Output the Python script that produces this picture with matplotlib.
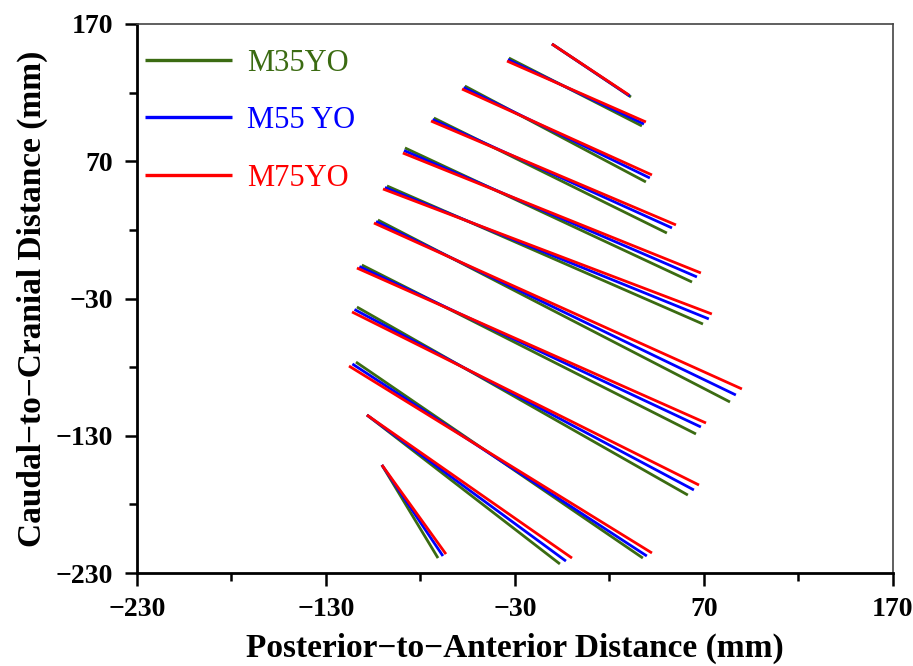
import matplotlib.pyplot as plt

# start / end points of each trajectory line (mm), one entry per line
m35_x0 = [-10.4, -33.2, -56.5, -72.9, -88.2, -97.7, -102.5, -111.0, -113.6, -114.1, -108.3, -100.4]
m35_y0 = [155.4, 145.2, 124.8, 101.5, 79.7, 52.0, 27.2, -5.6, -36.2, -76.3, -114.9, -151.3]
m35_x1 = [31.4, 37.2, 39.3, 50.4, 63.7, 69.5, 83.8, 65.8, 61.5, 37.7, -6.2, -70.7]
m35_y1 = [116.8, 95.7, 54.9, 17.7, -18.0, -48.6, -105.4, -128.7, -173.2, -219.1, -223.4, -219.1]

m55_x0 = [-10.4, -33.7, -57.2, -73.6, -88.7, -98.8, -103.5, -112.3, -114.9, -116.0, -108.3, -100.4]
m55_y0 = [155.4, 144.1, 123.7, 100.4, 77.8, 50.9, 26.1, -6.7, -38.0, -77.7, -114.9, -151.3]
m55_x1 = [30.8, 38.3, 41.4, 53.1, 66.3, 72.6, 86.9, 68.4, 64.7, 39.8, -3.0, -68.1]
m55_y1 = [117.5, 97.1, 57.8, 21.4, -14.3, -44.9, -100.3, -123.6, -169.5, -217.6, -221.3, -217.6]

m75_x0 = [-10.4, -34.2, -58.0, -74.4, -89.3, -99.8, -104.6, -113.6, -116.2, -117.8, -108.3, -100.4]
m75_y0 = [155.4, 143.0, 122.6, 99.3, 76.0, 49.8, 25.0, -7.8, -39.8, -79.2, -114.9, -151.3]
m75_x1 = [30.3, 39.3, 42.5, 55.2, 68.4, 74.2, 90.1, 71.1, 67.4, 42.5, 0.2, -66.5]
m75_y1 = [118.3, 98.6, 60.0, 23.6, -11.4, -41.3, -95.9, -120.7, -165.9, -215.4, -219.1, -216.2]

major_ticks = [-230, -130, -30, 70, 170]
minor_ticks = [-180, -80, 20, 120]

series = [
    ("M35YO", "#3b6b12", m35_x0, m35_y0, m35_x1, m35_y1),
    ("M55 YO", "#0000ff", m55_x0, m55_y0, m55_x1, m55_y1),
    ("M75YO", "#ff0000", m75_x0, m75_y0, m75_x1, m75_y1),
]

plt.rcParams['font.family'] = ['Liberation Serif', 'DejaVu Serif']

fig = plt.figure(figsize=(9.13, 6.66), dpi=100)
ax = fig.add_axes([0.150, 0.1396, 0.828, 0.8244])

for name, color, x0, y0, x1, y1 in series:
    for i in range(len(x0)):
        ax.plot([x0[i], x1[i]], [y0[i], y1[i]], color=color, lw=2.0,
                label=name if i == 0 else None, solid_capstyle='butt')

ax.set_xlim(-230, 170)
ax.set_ylim(-230, 170)
ax.set_xticks(major_ticks)
ax.set_yticks(major_ticks)
ax.set_xticks(minor_ticks, minor=True)
ax.set_yticks(minor_ticks, minor=True)
ax.set_xticklabels([str(t).replace('-', '\u2212') for t in major_ticks])
ax.set_yticklabels([str(t).replace('-', '\u2212') for t in major_ticks])

ax.tick_params(which='both', direction='out', width=1.8, top=False, right=False)
ax.tick_params(which='major', length=9, labelsize=20, pad=8)
ax.tick_params(which='minor', length=6)
for lab in ax.get_xticklabels() + ax.get_yticklabels():
    lab.set_fontweight('bold')

for s in ['left', 'bottom']:
    ax.spines[s].set_linewidth(2)
    ax.spines[s].set_color('black')
for s in ['top', 'right']:
    ax.spines[s].set_linewidth(1.2)
    ax.spines[s].set_color('#444444')

ax.set_xlabel("Posterior\u2212to\u2212Anterior Distance (mm)", fontsize=24,
              fontweight='bold', labelpad=8)
ax.set_ylabel("Caudal\u2212to\u2212Cranial Distance (mm)", fontsize=24,
              fontweight='bold', labelpad=6)

leg = ax.legend(loc='upper left', bbox_to_anchor=(0.0106, 0.955),
                frameon=False, fontsize=22,
                handlelength=2.85, handletextpad=0.5, labelspacing=0.93,
                borderpad=0, borderaxespad=0, labelcolor='linecolor')
for h in leg.get_lines():
    h.set_linewidth(2.4)

fig.savefig('out.png', dpi=100)
